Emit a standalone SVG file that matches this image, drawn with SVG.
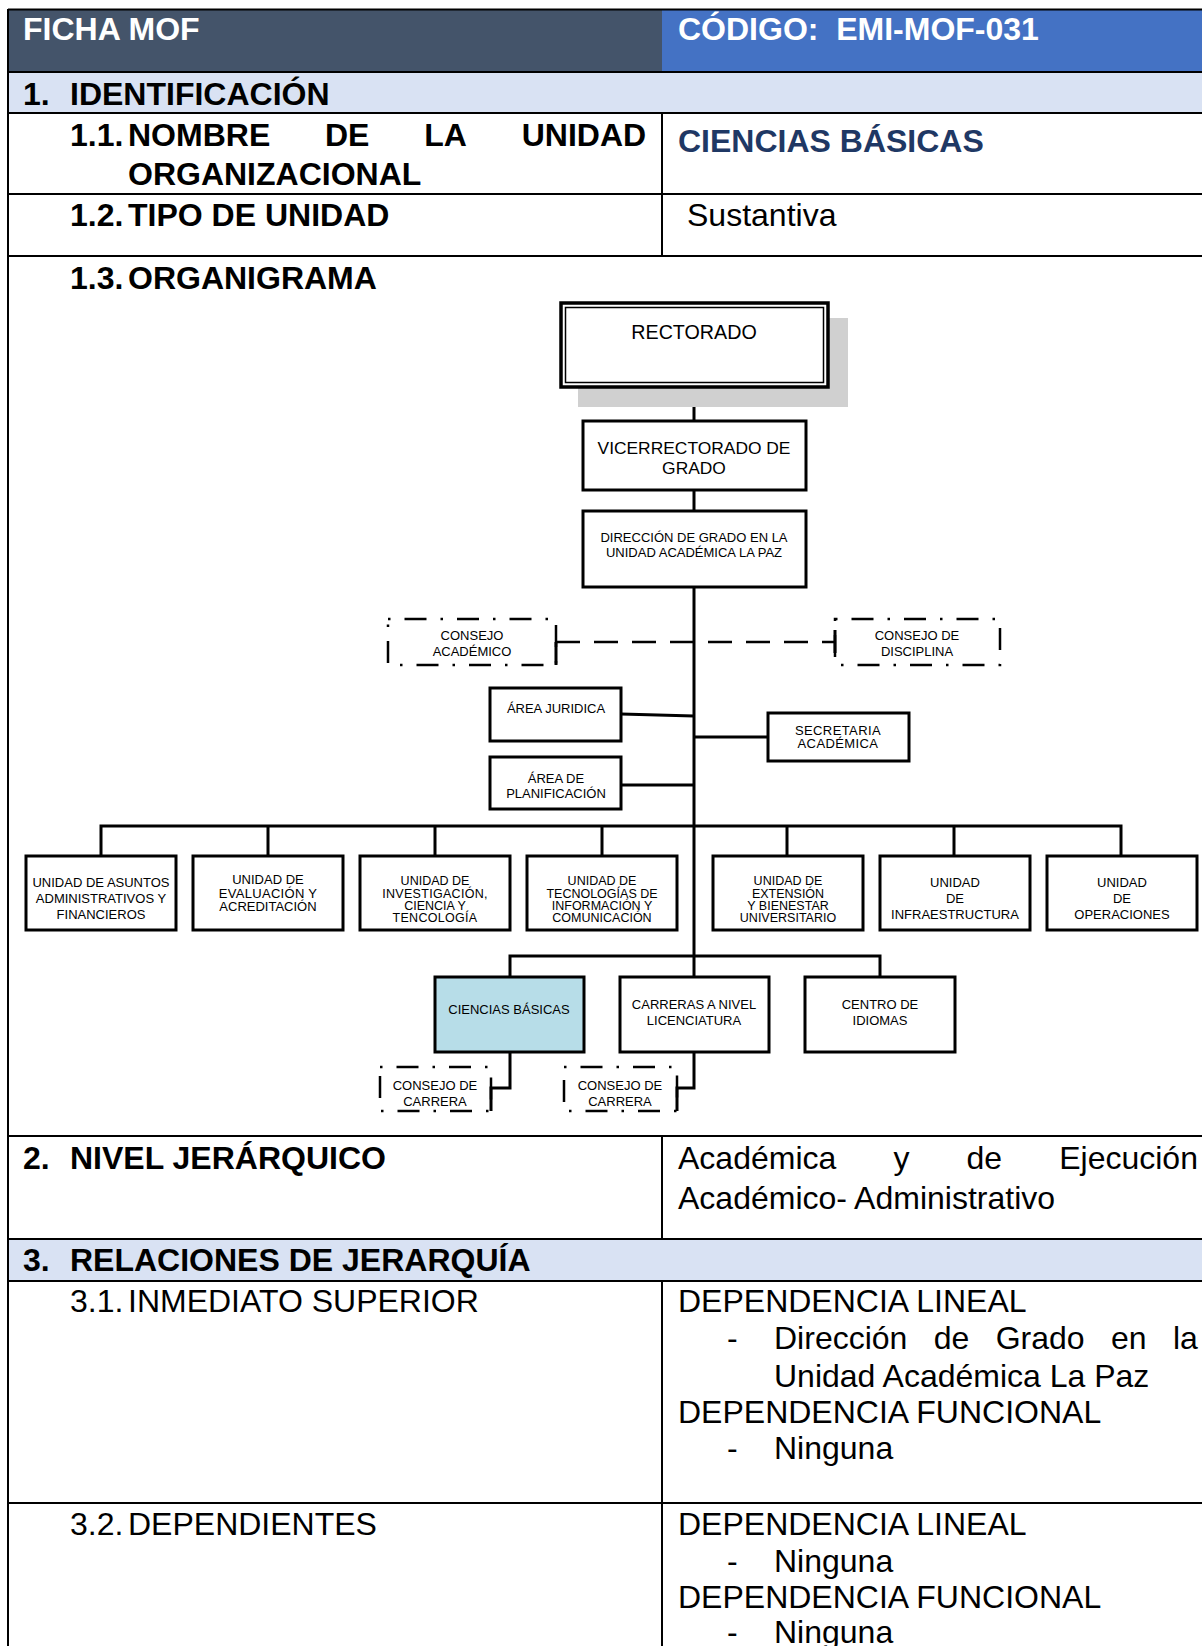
<svg xmlns="http://www.w3.org/2000/svg" width="1202" height="1646" viewBox="0 0 1202 1646">
<style>
text{font-family:"Liberation Sans",Arial,sans-serif;fill:#000}
.h{font-size:32px;font-weight:bold}
.hw{font-size:32px;font-weight:bold;fill:#fff}
.r{font-size:32px}
.tl{stroke:#000;stroke-width:2;fill:none}
.box{fill:#fff;stroke:#000;stroke-width:3}
.dd{fill:none;stroke:#000;stroke-width:2.5;stroke-dasharray:2.5 14 22 14}
.c{stroke:#000;stroke-width:3;fill:none}
.dash{stroke:#000;stroke-width:2.5;fill:none;stroke-dasharray:24 14}
.t13{font-size:13px;text-anchor:middle}
.t12{font-size:12.5px;text-anchor:middle}
</style>
<rect width="1202" height="1646" fill="#fff"/>
<g id="table">
<rect x="8" y="9.5" width="654" height="62.5" fill="#44546A"/>
<rect x="662" y="9.5" width="545" height="62.5" fill="#4472C4"/>
<rect x="8" y="72" width="1199" height="41" fill="#D9E2F3"/>
<rect x="8" y="1239" width="1199" height="42" fill="#D9E2F3"/>
<path class="tl" d="M8 9.5H1207M8 72H1207M8 113H1207M8 194H1207M8 256H1207M8 1136H1207M8 1239H1207M8 1281H1207M8 1503H1207"/>
<path class="tl" d="M8 9V1646"/>
<path class="tl" d="M662 113V256M662 1136V1239M662 1281V1646" stroke-width="1.5"/>
<text class="hw" x="23" y="40">FICHA MOF</text>
<text class="hw" x="678" y="40" xml:space="preserve">CÓDIGO:  EMI-MOF-031</text>
<text class="h" x="23" y="105">1.</text><text class="h" x="70" y="105">IDENTIFICACIÓN</text>
<text class="h" x="70" y="146">1.1.</text>
<text class="h" x="128" y="146">NOMBRE</text><text class="h" x="325" y="146">DE</text><text class="h" x="424.2" y="146">LA</text><text class="h" x="521.7" y="146">UNIDAD</text>
<text class="h" x="128" y="185">ORGANIZACIONAL</text>
<text class="h" x="678" y="152" style="fill:#1F3864">CIENCIAS BÁSICAS</text>
<text class="h" x="70" y="226">1.2.</text><text class="h" x="128" y="226">TIPO DE UNIDAD</text>
<text class="r" x="687" y="226">Sustantiva</text>
<text class="h" x="70" y="289">1.3.</text><text class="h" x="128" y="289">ORGANIGRAMA</text>
<text class="h" x="23" y="1169">2.</text><text class="h" x="70" y="1169">NIVEL JERÁRQUICO</text>
<text class="r" x="678" y="1169">Académica</text><text class="r" x="893.4" y="1169">y</text><text class="r" x="966.5" y="1169">de</text><text class="r" x="1059.2" y="1169">Ejecución</text>
<text class="r" x="678" y="1209">Académico- Administrativo</text>
<text class="h" x="23" y="1271">3.</text><text class="h" x="70" y="1271">RELACIONES DE JERARQUÍA</text>
<text class="r" x="70" y="1312">3.1.</text><text class="r" x="128" y="1312">INMEDIATO SUPERIOR</text>
<text class="r" x="678" y="1312">DEPENDENCIA LINEAL</text>
<text class="r" x="727" y="1349">-</text>
<text class="r" x="774" y="1349">Dirección</text><text class="r" x="933.7" y="1349">de</text><text class="r" x="995.7" y="1349">Grado</text><text class="r" x="1111" y="1349">en</text><text class="r" x="1173" y="1349">la</text>
<text class="r" x="774" y="1387">Unidad Académica La Paz</text>
<text class="r" x="678" y="1423">DEPENDENCIA FUNCIONAL</text>
<text class="r" x="727" y="1459">-</text><text class="r" x="774" y="1459">Ninguna</text>
<text class="r" x="70" y="1535">3.2.</text><text class="r" x="128" y="1535">DEPENDIENTES</text>
<text class="r" x="678" y="1535">DEPENDENCIA LINEAL</text>
<text class="r" x="727" y="1572">-</text><text class="r" x="774" y="1572">Ninguna</text>
<text class="r" x="678" y="1608">DEPENDENCIA FUNCIONAL</text>
<text class="r" x="727" y="1643">-</text><text class="r" x="774" y="1643">Ninguna</text>
</g>
<g id="connectors">
<path class="c" d="M694 388V421M694 490V511M694 587V977"/>
<path class="dash" d="M556 642H835"/>
<path class="c" d="M556 642V665M835 630V653" stroke-width="2.5"/>
<path class="c" d="M621 714L694 716M621 785H694M694 737H768" stroke-width="2.5"/>
<path class="c" d="M101 856V826H1121V856M268 826V856M435 826V856M602 826V856M787 826V856M954 826V856"/>
<path class="c" d="M510 977V956H880V977"/>
<path class="c" d="M510 1052V1088H491V1111M694 1052V1088H677V1111"/>
</g>
<g id="rectorado">
<rect x="578" y="318" width="270" height="89" fill="#D0D0D0"/>
<rect x="561" y="303" width="267" height="84" fill="#fff" stroke="#000" stroke-width="3.5"/>
<rect x="565.5" y="307.5" width="258" height="75" fill="none" stroke="#000" stroke-width="1.5"/>
<text x="694" y="339" style="font-size:19.7px;text-anchor:middle">RECTORADO</text>
</g>
<g id="vicerrectorado">
<rect class="box" x="583" y="421" width="223" height="69"/>
<text x="694" y="454" style="font-size:17.4px;text-anchor:middle">VICERRECTORADO DE</text>
<text x="694" y="474" style="font-size:17.4px;text-anchor:middle">GRADO</text>
</g>
<g id="direccion">
<rect class="box" x="583" y="511" width="223" height="76"/>
<text class="t13" x="694" y="542">DIRECCIÓN DE GRADO EN LA</text>
<text class="t13" x="694" y="557">UNIDAD ACADÉMICA LA PAZ</text>
</g>
<g id="consejo-academico">
<rect class="dd" x="388" y="619" width="168" height="46"/>
<text class="t13" x="472" y="640">CONSEJO</text>
<text class="t13" x="472" y="656">ACADÉMICO</text>
</g>
<g id="consejo-disciplina">
<rect class="dd" x="835" y="619" width="165" height="46"/>
<text class="t13" x="917" y="640">CONSEJO DE</text>
<text class="t13" x="917" y="656">DISCIPLINA</text>
</g>
<g id="area-juridica">
<rect class="box" x="490" y="688" width="131" height="53"/>
<text class="t13" x="556" y="713">ÁREA JURIDICA</text>
</g>
<g id="area-planificacion">
<rect class="box" x="490" y="757" width="131" height="52"/>
<text class="t13" x="556" y="783">ÁREA DE</text>
<text class="t13" x="556" y="798">PLANIFICACIÓN</text>
</g>
<g id="secretaria">
<rect class="box" x="768" y="713" width="141" height="48"/>
<text class="t13" x="838" y="735" letter-spacing="0.4">SECRETARIA</text>
<text class="t13" x="838" y="748" letter-spacing="0.4">ACADÉMICA</text>
</g>
<g id="u-asuntos">
<rect class="box" x="26" y="856" width="150" height="74"/>
<text class="t13" x="101" y="887">UNIDAD DE ASUNTOS</text>
<text class="t13" x="101" y="903">ADMINISTRATIVOS Y</text>
<text class="t13" x="101" y="919">FINANCIEROS</text>
</g>
<g id="u-evaluacion">
<rect class="box" x="193" y="856" width="150" height="74"/>
<text class="t13" x="268" y="884">UNIDAD DE</text>
<text class="t13" x="268" y="898" letter-spacing="0.3">EVALUACIÓN Y</text>
<text class="t13" x="268" y="911">ACREDITACIÓN</text>
</g>
<g id="u-investigacion">
<rect class="box" x="360" y="856" width="150" height="74"/>
<text class="t12" x="435" y="885">UNIDAD DE</text>
<text class="t12" x="435" y="898" letter-spacing="0.3">INVESTIGACIÓN,</text>
<text class="t12" x="435" y="910">CIENCIA Y</text>
<text class="t12" x="435" y="922" letter-spacing="0.3">TENCOLOGÍA</text>
</g>
<g id="u-tecnologias">
<rect class="box" x="527" y="856" width="150" height="74"/>
<text class="t12" x="602" y="885">UNIDAD DE</text>
<text class="t12" x="602" y="898">TECNOLOGÍAS DE</text>
<text class="t12" x="602" y="910">INFORMACIÓN Y</text>
<text class="t12" x="602" y="922">COMUNICACIÓN</text>
</g>
<g id="u-extension">
<rect class="box" x="713" y="856" width="150" height="74"/>
<text class="t12" x="788" y="885">UNIDAD DE</text>
<text class="t12" x="788" y="898">EXTENSIÓN</text>
<text class="t12" x="788" y="910">Y BIENESTAR</text>
<text class="t12" x="788" y="922">UNIVERSITARIO</text>
</g>
<g id="u-infraestructura">
<rect class="box" x="880" y="856" width="150" height="74"/>
<text class="t13" x="955" y="887">UNIDAD</text>
<text class="t13" x="955" y="903">DE</text>
<text class="t13" x="955" y="919">INFRAESTRUCTURA</text>
</g>
<g id="u-operaciones">
<rect class="box" x="1047" y="856" width="150" height="74"/>
<text class="t13" x="1122" y="887">UNIDAD</text>
<text class="t13" x="1122" y="903">DE</text>
<text class="t13" x="1122" y="919">OPERACIONES</text>
</g>
<g id="ciencias-basicas">
<rect class="box" x="435" y="977" width="149" height="75" style="fill:#B7DDE8"/>
<text class="t13" x="509" y="1014">CIENCIAS BÁSICAS</text>
</g>
<g id="carreras">
<rect class="box" x="620" y="977" width="149" height="75"/>
<text class="t13" x="694" y="1009">CARRERAS A NIVEL</text>
<text class="t13" x="694" y="1025">LICENCIATURA</text>
</g>
<g id="centro-idiomas">
<rect class="box" x="805" y="977" width="150" height="75"/>
<text class="t13" x="880" y="1009">CENTRO DE</text>
<text class="t13" x="880" y="1025">IDIOMAS</text>
</g>
<g id="consejo-carrera-1">
<rect class="dd" x="380" y="1067" width="111" height="44"/>
<text class="t13" x="435" y="1090">CONSEJO DE</text>
<text class="t13" x="435" y="1106">CARRERA</text>
</g>
<g id="consejo-carrera-2">
<rect class="dd" x="564" y="1067" width="113" height="44"/>
<text class="t13" x="620" y="1090">CONSEJO DE</text>
<text class="t13" x="620" y="1106">CARRERA</text>
</g>
</svg>
